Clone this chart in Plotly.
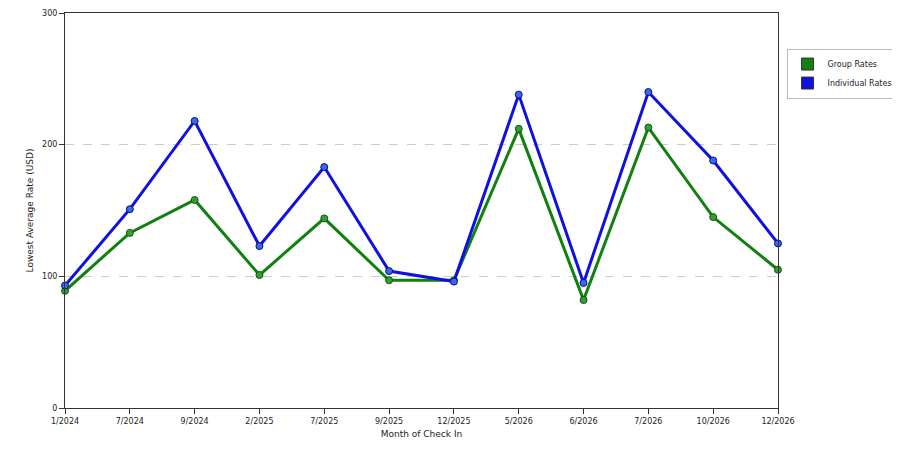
import plotly.graph_objects as go

months = ['1/2024', '7/2024', '9/2024', '2/2025', '7/2025', '9/2025', '12/2025',
          '5/2026', '6/2026', '7/2026', '10/2026', '12/2026']
group_rates = [89, 133, 158, 101, 144, 97, 97, 212, 82, 213, 145, 105]
individual_rates = [93, 151, 218, 123, 183, 104, 96, 238, 95, 240, 188, 125]

GREEN = '#108010'
BLUE = '#1010e0'

fig = go.Figure()
fig.add_trace(go.Scatter(x=months, y=group_rates, mode='lines+markers', showlegend=False,
                         line=dict(color=GREEN, width=3), cliponaxis=False,
                         marker=dict(size=7, color='#3a9a3a', line=dict(color='#0a5a0a', width=1))))
fig.add_trace(go.Scatter(x=months, y=individual_rates, mode='lines+markers', showlegend=False,
                         line=dict(color=BLUE, width=3), cliponaxis=False,
                         marker=dict(size=7, color='#3a6ae0', line=dict(color='#0a0a90', width=1))))
# legend entries with square swatches
fig.add_trace(go.Scatter(x=[None], y=[None], mode='markers', name='Group Rates',
                         marker=dict(symbol='square', size=12, color=GREEN, line=dict(color='#333', width=1))))
fig.add_trace(go.Scatter(x=[None], y=[None], mode='markers', name='Individual Rates',
                         marker=dict(symbol='square', size=12, color=BLUE, line=dict(color='#333', width=1))))

fig.update_layout(
    width=900, height=450,
    margin=dict(l=57, r=130, t=5, b=50, autoexpand=False),
    plot_bgcolor='white', paper_bgcolor='white',
    font=dict(family='DejaVu Sans', size=9, color='#222'),
    legend=dict(x=1.012, y=0.91, xanchor='left', yanchor='top', itemwidth=30,
                bordercolor='#bbb', borderwidth=1, font=dict(size=8)),
)
fig.update_xaxes(type='category', title=dict(text='Month of Check In', standoff=6, font=dict(size=9)),
                 showline=True, linecolor='#333', mirror=True, ticks='outside', automargin=False,
                 ticklen=5, tickcolor='#333', showgrid=False, range=[0, 11], tickfont=dict(size=8))
fig.update_yaxes(title=dict(text='Lowest Average Rate (USD)', standoff=6, font=dict(size=9)), range=[0, 300],
                 tickvals=[0, 100, 200, 300], showline=True, linecolor='#333', mirror=True,
                 ticks='outside', ticklen=5, tickcolor='#333', automargin=False, tickfont=dict(size=8),
                 gridcolor='#ccc', griddash='dash', zeroline=False)

fig.write_html('out.html')
